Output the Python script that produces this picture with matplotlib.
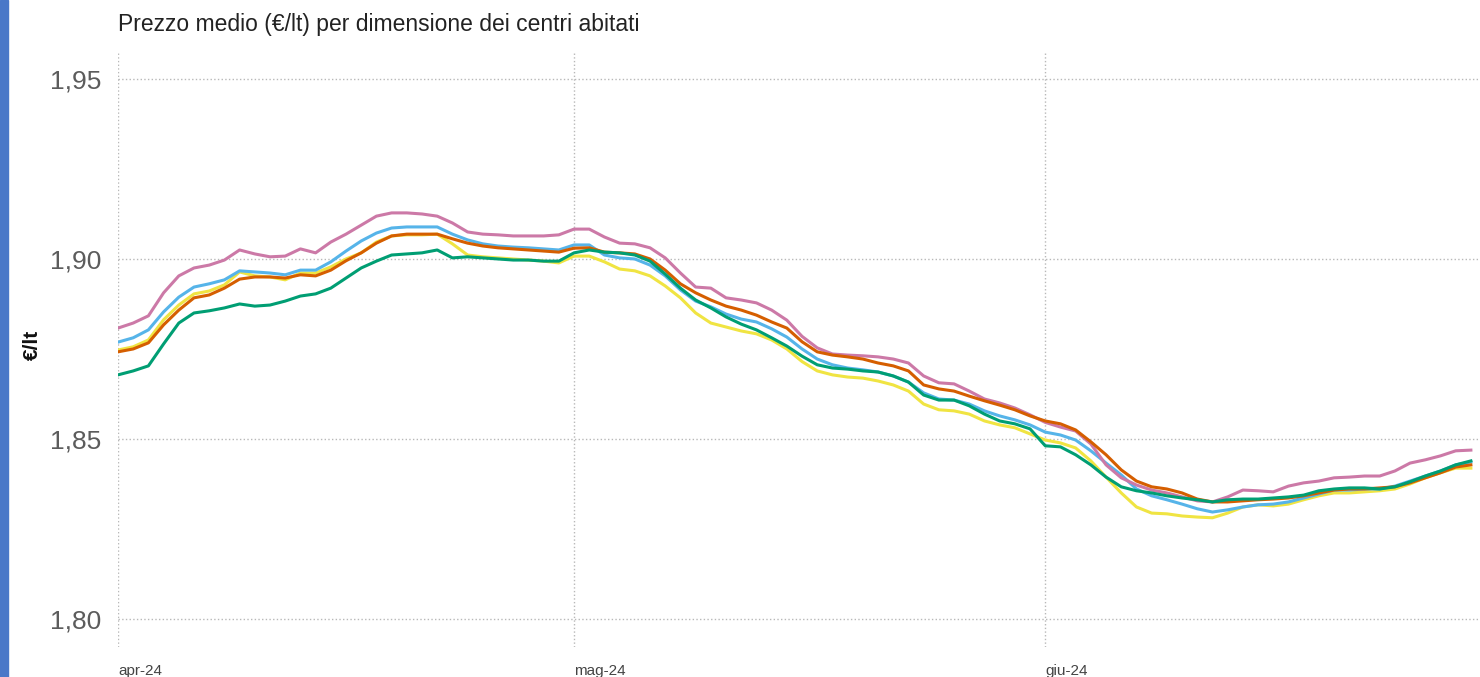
import pandas as pd
import matplotlib.pyplot as plt
import matplotlib.dates as mdates
from matplotlib.patches import Rectangle

plt.rcParams['font.family'] = ['Liberation Sans', 'DejaVu Sans']

# prezzi medi giornalieri dal 1 aprile 2024
start_date = "2024-04-01"

rosa = [1.8808, 1.8822, 1.8842, 1.8906, 1.8953, 1.8975, 1.8983, 1.8997, 1.9025, 1.9014, 1.9006, 1.9008, 1.9028, 1.9017, 1.9047, 1.9069,
        1.9094, 1.9119, 1.9128, 1.9128, 1.9125, 1.9119, 1.9100, 1.9075, 1.9069, 1.9067, 1.9064, 1.9064, 1.9064, 1.9067, 1.9083,
        1.9083, 1.9061, 1.9044, 1.9042, 1.9031, 1.9003, 1.8961, 1.8922, 1.8919, 1.8892, 1.8886, 1.8878, 1.8858, 1.8830, 1.8785, 1.8753,
        1.8736, 1.8733, 1.8731, 1.8728, 1.8722, 1.8711, 1.8675, 1.8656, 1.8653, 1.8633, 1.8611, 1.8600, 1.8586, 1.8567, 1.8546,
        1.8533, 1.8522, 1.8486, 1.8428, 1.8392, 1.8372, 1.8358, 1.8350, 1.8339, 1.8328, 1.8325, 1.8339, 1.8358, 1.8356,
        1.8353, 1.8369, 1.8378, 1.8383, 1.8392, 1.8394, 1.8397, 1.8397, 1.8411, 1.8433, 1.8442, 1.8453, 1.8467, 1.8469]

azzurro = [1.8769, 1.8781, 1.8803, 1.8853, 1.8894, 1.8922, 1.8931, 1.8942, 1.8967, 1.8964, 1.8961, 1.8956, 1.8969, 1.8969, 1.8992, 1.9022,
           1.9050, 1.9072, 1.9086, 1.9089, 1.9089, 1.9089, 1.9069, 1.9053, 1.9042, 1.9036, 1.9033, 1.9031, 1.9028, 1.9025, 1.9039,
           1.9039, 1.9011, 1.9003, 1.9000, 1.8983, 1.8953, 1.8914, 1.8883, 1.8867, 1.8847, 1.8833, 1.8825, 1.8806, 1.8783, 1.8750, 1.8722,
           1.8706, 1.8697, 1.8692, 1.8686, 1.8675, 1.8658, 1.8628, 1.8611, 1.8608, 1.8597, 1.8578, 1.8564, 1.8553, 1.8539, 1.8519,
           1.8511, 1.8497, 1.8467, 1.8433, 1.8400, 1.8361, 1.8342, 1.8331, 1.8319, 1.8306, 1.8297, 1.8303, 1.8311, 1.8317,
           1.8319, 1.8325, 1.8336, 1.8347, 1.8358, 1.8358, 1.8361, 1.8361, 1.8369, 1.8383, 1.8397, 1.8411, 1.8428, 1.8436]

arancio = [1.8742, 1.8750, 1.8767, 1.8817, 1.8858, 1.8892, 1.8900, 1.8919, 1.8944, 1.8950, 1.8950, 1.8947, 1.8956, 1.8953, 1.8969, 1.8995,
           1.9017, 1.9044, 1.9064, 1.9069, 1.9069, 1.9069, 1.9056, 1.9044, 1.9036, 1.9031, 1.9028, 1.9025, 1.9022, 1.9019, 1.9030,
           1.9031, 1.9019, 1.9017, 1.9014, 1.9000, 1.8969, 1.8931, 1.8906, 1.8886, 1.8869, 1.8858, 1.8844, 1.8825, 1.8808, 1.8770, 1.8742,
           1.8733, 1.8728, 1.8722, 1.8711, 1.8703, 1.8689, 1.8650, 1.8639, 1.8633, 1.8619, 1.8606, 1.8594, 1.8581, 1.8564, 1.8550,
           1.8542, 1.8525, 1.8492, 1.8456, 1.8414, 1.8383, 1.8367, 1.8361, 1.8350, 1.8333, 1.8325, 1.8325, 1.8328, 1.8331,
           1.8333, 1.8336, 1.8342, 1.8350, 1.8358, 1.8361, 1.8361, 1.8364, 1.8367, 1.8378, 1.8392, 1.8406, 1.8422, 1.8428]

giallo = [1.8747, 1.8756, 1.8775, 1.8831, 1.8872, 1.8903, 1.8911, 1.8928, 1.8964, 1.8953, 1.8950, 1.8942, 1.8961, 1.8961, 1.8978, 1.9000,
          1.9017, 1.9047, 1.9064, 1.9067, 1.9067, 1.9069, 1.9042, 1.9011, 1.9006, 1.9003, 1.9000, 1.8997, 1.8994, 1.8989, 1.9008,
          1.9008, 1.8992, 1.8972, 1.8967, 1.8953, 1.8925, 1.8892, 1.8850, 1.8822, 1.8811, 1.8800, 1.8792, 1.8775, 1.8750, 1.8715, 1.8689,
          1.8678, 1.8672, 1.8669, 1.8661, 1.8650, 1.8633, 1.8597, 1.8581, 1.8578, 1.8569, 1.8550, 1.8539, 1.8531, 1.8514, 1.8497,
          1.8489, 1.8475, 1.8439, 1.8394, 1.8350, 1.8311, 1.8294, 1.8292, 1.8286, 1.8283, 1.8281, 1.8294, 1.8311, 1.8317,
          1.8314, 1.8319, 1.8331, 1.8342, 1.8350, 1.8350, 1.8353, 1.8356, 1.8361, 1.8375, 1.8392, 1.8406, 1.8419, 1.8419]

verde = [1.8678, 1.8689, 1.8703, 1.8764, 1.8822, 1.8850, 1.8856, 1.8864, 1.8875, 1.8869, 1.8872, 1.8883, 1.8897, 1.8903, 1.8919, 1.8947,
         1.8975, 1.8994, 1.9011, 1.9014, 1.9017, 1.9025, 1.9003, 1.9006, 1.9003, 1.9000, 1.8997, 1.8997, 1.8994, 1.8994, 1.9017,
         1.9025, 1.9019, 1.9017, 1.9011, 1.8994, 1.8958, 1.8919, 1.8886, 1.8864, 1.8839, 1.8819, 1.8803, 1.8781, 1.8758, 1.8730, 1.8706,
         1.8697, 1.8694, 1.8689, 1.8686, 1.8675, 1.8658, 1.8622, 1.8608, 1.8608, 1.8592, 1.8569, 1.8550, 1.8542, 1.8528, 1.8481,
         1.8478, 1.8456, 1.8428, 1.8394, 1.8367, 1.8356, 1.8350, 1.8342, 1.8336, 1.8331, 1.8325, 1.8331, 1.8333, 1.8333,
         1.8336, 1.8339, 1.8344, 1.8356, 1.8361, 1.8364, 1.8364, 1.8361, 1.8367, 1.8381, 1.8397, 1.8411, 1.8428, 1.8439]

month_ticks = ["2024-04-01", "2024-05-01", "2024-06-01"]
month_labels = ["apr-24", "mag-24", "giu-24"]
y_ticks = [1.80, 1.85, 1.90, 1.95]
y_labels = ["1,80", "1,85", "1,90", "1,95"]

dates = pd.date_range(start_date, periods=len(verde), freq="D")

fig = plt.figure(figsize=(14.8, 6.77), dpi=100)
ax = fig.add_axes([118 / 1480, 1 - 647 / 677, 1 - 118 / 1480, (647 - 52) / 677])

# striscia blu sul bordo sinistro
fig.patches.append(Rectangle((0, 0), 8 / 1480, 1, transform=fig.transFigure,
                             color="#4a78c8", zorder=0))

ax.plot(dates, giallo, color="#f0e442", lw=2.2)
ax.plot(dates, azzurro, color="#56b4e9", lw=2.2)
ax.plot(dates, rosa, color="#cc79a7", lw=2.2)
ax.plot(dates, arancio, color="#d55e00", lw=2.2)
ax.plot(dates, verde, color="#009e73", lw=2.2)

ax.set_ylim(1.7922, 1.9575)
ax.set_xlim(dates[0], dates[0] + pd.Timedelta(days=89.6))

ax.set_yticks(y_ticks)
ax.set_yticklabels(y_labels, fontsize=19, color="#5c5c5c")
ax.set_xticks([mdates.datestr2num(d) for d in month_ticks])
ax.set_xticklabels(month_labels, fontsize=11, color="#444444", ha="left")
ax.tick_params(axis="both", length=0)
ax.tick_params(axis="y", pad=12)
ax.tick_params(axis="x", pad=12)

ax.grid(True, linestyle=":", color="#b8b8b8", linewidth=1)
ax.set_axisbelow(True)
for s in ax.spines.values():
    s.set_visible(False)

fig.text(118 / 1480, 1 - 25 / 677, "Prezzo medio (€/lt) per dimensione dei centri abitati",
         fontsize=16.5, color="#222222", ha="left", va="center")
fig.text(32 / 1480, 1 - 345 / 677, "€/lt", fontsize=15, fontweight="bold", color="#111111",
         rotation=90, ha="center", va="center")

plt.savefig("out.png", dpi=100)
